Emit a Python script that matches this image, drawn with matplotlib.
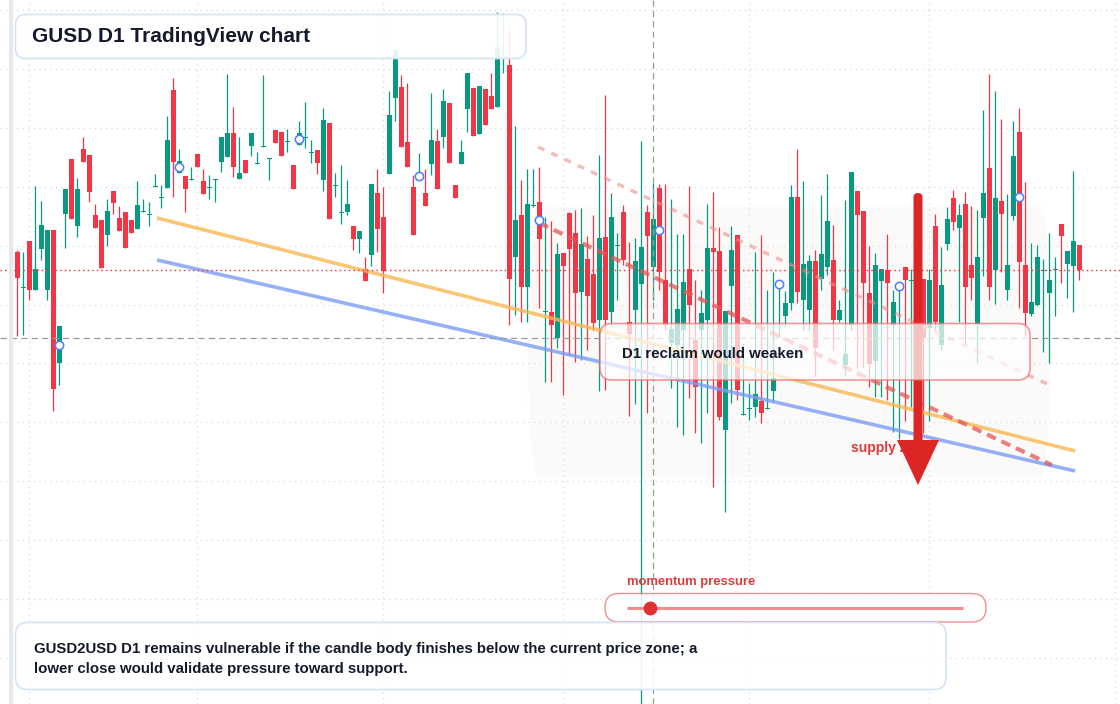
import matplotlib
matplotlib.use("Agg")
import matplotlib.pyplot as plt
import numpy as np
from matplotlib.patches import FancyBboxPatch, Rectangle, Polygon
from matplotlib.transforms import Affine2D

plt.rcParams['font.family'] = ['Liberation Sans', 'DejaVu Sans']
plt.rcParams['lines.scale_dashes'] = False

# ---------------- data (daily candles, arbitrary price units) ----------------
opens = [4.52, 4.16, 4.63, 4.14, 4.55, 4.14, 4.74, 3.41, 4.90, 5.45,
         4.78, 5.55, 5.49, 4.89, 4.84, 4.69, 5.13, 4.86, 4.92, 4.84,
         4.75, 4.92, 4.89, 5.17, 5.06, 5.16, 6.14, 5.31, 5.28, 5.24,
         5.50, 5.23, 5.16, 5.24, 5.42, 5.47, 5.71, 5.25, 5.44, 5.58,
         5.40, 5.57, 5.45, 5.74, 5.72, 5.62, 5.39, 5.59, 5.66, 5.51,
         5.54, 5.24, 5.81, 5.18, 4.91, 4.92, 4.78, 4.65, 4.35, 4.49,
         5.11, 4.87, 5.30, 6.06, 6.17, 5.62, 5.17, 5.27, 5.11, 5.40,
         5.63, 5.67, 6.01, 5.19, 5.40, 5.95, 6.16, 5.70, 6.15, 6.08,
         5.97, 6.54, 6.39, 4.47, 4.89, 4.17, 4.98, 5.02, 3.92, 3.92,
         3.66, 4.51, 4.91, 4.71, 4.12, 4.45, 4.30, 3.84, 4.67, 3.92,
         4.58, 4.92, 3.82, 3.94, 4.20, 4.92, 4.37, 5.16, 4.24, 3.61,
         3.59, 3.74, 4.35, 3.64, 3.74, 3.84, 4.56, 4.53, 2.74, 4.18,
         4.69, 2.89, 2.95, 2.97, 3.03, 2.95, 3.13, 4.18, 3.88, 4.01,
         5.07, 4.04, 3.94, 4.43, 4.25, 4.37, 4.44, 3.84, 3.39, 3.79,
         5.13, 4.93, 4.11, 3.43, 4.23, 4.34, 3.79, 4.16, 4.37, 4.23,
         4.32, 4.25, 3.76, 4.78, 3.59, 4.60, 5.06, 4.76, 5.00, 4.39,
         3.80, 4.86, 5.36, 4.34, 5.03, 4.14, 4.88, 5.72, 4.39, 3.90,
         3.99, 4.33, 4.11, 4.34, 4.80, 4.40, 4.38, 4.59]
highs = [4.54, 4.52, 4.63, 5.18, 5.03, 4.74, 4.74, 3.78, 5.15, 5.45,
         5.26, 5.67, 5.49, 5.00, 4.84, 5.05, 5.13, 4.98, 4.92, 4.84,
         5.23, 5.05, 5.02, 5.30, 5.19, 5.88, 6.26, 5.55, 5.28, 5.37,
         5.50, 5.35, 5.29, 5.25, 5.67, 6.30, 5.97, 5.67, 5.44, 5.71,
         5.52, 6.29, 5.46, 5.74, 5.72, 5.75, 5.39, 5.83, 6.02, 5.64,
         5.54, 5.96, 5.81, 5.31, 5.39, 5.24, 4.78, 4.73, 4.47, 5.20,
         5.35, 5.17, 6.13, 6.54, 6.29, 6.21, 5.29, 5.51, 5.35, 6.11,
         5.75, 6.15, 6.01, 5.19, 5.64, 6.31, 6.16, 6.18, 6.15, 6.31,
         6.92, 6.91, 6.74, 5.78, 5.24, 5.35, 5.35, 5.37, 4.87, 4.83,
         4.61, 4.51, 4.92, 4.94, 4.96, 4.68, 4.89, 5.49, 6.09, 5.11,
         4.71, 4.99, 4.62, 4.66, 5.63, 4.99, 5.21, 5.20, 5.20, 5.05,
         4.70, 4.70, 5.18, 4.24, 4.14, 5.00, 5.12, 4.77, 3.93, 4.78,
         4.69, 3.61, 3.21, 4.52, 4.69, 4.14, 4.32, 4.22, 4.13, 5.19,
         5.55, 5.23, 4.49, 4.54, 5.09, 5.30, 4.79, 4.04, 5.04, 5.32,
         5.13, 4.93, 4.58, 4.51, 4.35, 4.70, 4.14, 4.19, 4.37, 4.35,
         4.49, 4.25, 4.35, 4.90, 4.57, 4.97, 5.14, 5.00, 5.12, 4.98,
         4.94, 5.94, 6.30, 6.13, 5.85, 5.10, 5.83, 5.96, 5.22, 4.61,
         4.59, 4.45, 4.71, 4.47, 4.80, 4.53, 5.33, 4.59]
lows = [3.68, 3.69, 4.04, 4.14, 4.44, 4.04, 2.93, 3.19, 4.56, 4.85,
        4.67, 5.42, 5.02, 4.76, 4.36, 4.58, 4.90, 4.73, 4.56, 4.71,
        4.75, 4.92, 4.78, 5.17, 4.96, 5.16, 5.07, 5.31, 4.92, 5.24,
        5.37, 5.10, 5.05, 5.02, 5.32, 5.47, 5.27, 5.25, 5.31, 5.48,
        5.40, 5.57, 5.24, 5.61, 5.48, 5.52, 5.15, 5.59, 5.56, 5.41,
        5.30, 5.13, 4.85, 5.07, 4.80, 4.89, 4.54, 4.51, 4.23, 4.38,
        4.52, 4.11, 5.30, 5.83, 5.57, 5.37, 4.69, 5.27, 4.98, 5.29,
        5.15, 5.56, 5.41, 5.06, 5.40, 5.72, 5.68, 5.70, 5.79, 5.95,
        5.97, 6.31, 3.79, 3.89, 3.82, 3.82, 4.97, 3.96, 3.22, 3.22,
        3.56, 3.09, 3.49, 3.42, 3.44, 3.54, 3.74, 3.13, 3.14, 3.79,
        4.04, 4.39, 2.88, 3.00, -0.16, 2.91, 4.04, 4.14, 3.74, 3.16,
        2.77, 2.69, 3.06, 2.71, 2.61, 2.91, 2.17, 2.84, 1.92, 3.01,
        3.04, 2.89, 2.84, 2.87, 2.81, 2.95, 3.02, 3.67, 3.77, 3.94,
        4.01, 3.74, 3.74, 3.28, 4.14, 4.29, 3.54, 3.82, 3.28, 3.74,
        3.36, 3.37, 3.17, 3.07, 3.07, 3.04, 2.72, 2.65, 2.83, 2.97,
        3.04, 2.71, 2.83, 3.74, 3.54, 4.54, 4.74, 3.82, 3.59, 4.04,
        3.41, 4.28, 4.04, 4.00, 4.32, 4.04, 4.84, 3.96, 3.68, 3.88,
        3.98, 3.52, 3.41, 3.88, 4.21, 4.06, 3.92, 4.24]
closes = [4.26, 4.17, 4.14, 4.35, 4.79, 4.74, 3.15, 3.78, 5.15, 4.85,
          5.15, 5.42, 5.12, 4.76, 4.36, 4.93, 5.01, 4.73, 4.56, 4.71,
          4.99, 4.93, 4.90, 5.18, 5.07, 5.64, 5.42, 5.43, 5.15, 5.25,
          5.37, 5.10, 5.17, 5.25, 5.67, 5.71, 5.37, 5.31, 5.31, 5.71,
          5.41, 5.58, 5.46, 5.61, 5.48, 5.63, 5.15, 5.71, 5.67, 5.52,
          5.41, 5.84, 4.85, 5.19, 4.92, 5.00, 4.65, 4.73, 4.23, 5.20,
          4.75, 4.33, 5.89, 6.54, 5.57, 5.37, 4.69, 5.28, 4.98, 5.64,
          5.15, 6.03, 5.41, 5.06, 5.52, 6.31, 5.68, 6.18, 5.79, 5.95,
          6.57, 6.55, 4.25, 4.84, 4.17, 5.00, 4.99, 4.65, 3.93, 3.79,
          4.50, 4.38, 4.55, 4.11, 4.60, 4.08, 3.81, 4.66, 3.84, 4.87,
          4.59, 4.44, 3.70, 4.43, 4.57, 4.68, 4.85, 4.32, 3.79, 3.75,
          3.95, 4.22, 3.99, 3.17, 3.91, 4.56, 4.52, 2.87, 3.93, 4.54,
          3.14, 2.90, 2.96, 3.10, 2.91, 2.96, 3.26, 4.22, 4.01, 5.07,
          4.12, 4.40, 4.43, 3.56, 4.50, 4.83, 3.84, 3.94, 3.50, 5.32,
          4.89, 4.21, 3.40, 4.39, 4.35, 4.21, 4.02, 4.19, 4.24, 4.24,
          4.04, 3.66, 4.24, 3.82, 4.19, 4.85, 4.82, 4.89, 4.17, 4.26,
          4.47, 5.11, 4.17, 5.06, 4.90, 4.39, 5.48, 4.42, 3.91, 4.02,
          4.47, 4.34, 4.24, 4.35, 4.68, 4.53, 4.63, 4.34]

marker_days = [7, 27, 47, 67, 87, 107, 127, 147, 167]
month_starts = [2, 30, 61, 91, 122, 152, 183]
grid_prices = [6.94, 6.35, 5.76, 5.17, 4.58, 3.99, 3.41, 2.82, 2.23, 1.64, 1.05, 0.46]

orange_x, orange_y = [23.3, 176.3], [4.86, 2.53]
blue_x, blue_y = [23.3, 176.3], [4.44, 2.33]
dash_light_x, dash_light_y = [86.8, 172.4], [5.57, 3.18]
dash_dark_x, dash_dark_y = [87.0, 172.4], [4.81, 2.39]
zone_x, zone_y = [85.0, 172.4], [2.27, 4.97]
crosshair_day, crosshair_price = 106, 3.66

title = "GUSD D1 TradingView chart"
note = "D1 reclaim would weaken"
zone_label = "supply zone"
meter_label = "momentum pressure"
body_lines = ["GUSD2USD D1 remains vulnerable if the candle body finishes below the current price zone; a",
              "lower close would validate pressure toward support."]

# ---------------- figure ----------------
W, H = 1120, 704
fig = plt.figure(figsize=(W / 100, H / 100), dpi=100)
ax = fig.add_axes([0, 0, 1, 1])
ax.set_facecolor('white')
for s in ax.spines.values():
    s.set_visible(False)
ax.set_xticks([])
ax.set_yticks([])

# pixel transform (origin top-left)
pix = Affine2D().scale(1 / 100, -1 / 100).translate(0, H / 100) + fig.dpi_scale_trans

GREEN = '#089981'
RED = '#f23645'
o = np.array(opens); h = np.array(highs); l = np.array(lows); c = np.array(closes)
x = np.arange(len(o))

# grid
for gp in grid_prices:
    ax.axhline(gp, color='#d3d6dc', lw=0.9, dashes=(0.8, 3.2), zorder=0)
for m in month_starts:
    ax.axvline(m, color='#d3d6dc', lw=0.9, dashes=(0.8, 3.2), zorder=0)

# faint supply zone
ax.add_patch(FancyBboxPatch((zone_x[0], zone_y[0]), zone_x[1] - zone_x[0], zone_y[1] - zone_y[0],
                            boxstyle="round,pad=0,rounding_size=2", facecolor='#f4ece6',
                            edgecolor='none', alpha=0.22, zorder=0.5))

# candles
cols = np.where(c >= o, GREEN, RED)
ax.vlines(x, l, h, colors=cols, lw=0.9, zorder=2)
bot = np.minimum(o, c)
hgt = np.maximum(np.abs(c - o), 0.012)
ax.bar(x, hgt, bottom=bot, width=0.82, color=cols, linewidth=0, zorder=2.1)

# trend lines
ax.plot(orange_x, orange_y, color='#f8b853', lw=2.6, alpha=0.8, solid_capstyle='butt', zorder=3)
ax.plot(blue_x, blue_y, color='#7b9cf4', lw=2.6, alpha=0.8, solid_capstyle='butt', zorder=3)
ax.plot(dash_light_x, dash_light_y, color='#ef8c8c', lw=2.4, alpha=0.6, dashes=(5, 5.5), zorder=3)
ax.plot(dash_dark_x, dash_dark_y, color='#e45656', lw=3.0, alpha=0.75, dashes=(7, 4.5), zorder=3)

# markers
mk = np.array(marker_days)
ax.plot(mk, (o[mk] + c[mk]) / 2, 'o', ms=6, mfc='white', mec='#4d7ef7', mew=1.1, zorder=4)

# price line and crosshair
ax.axhline(c[-1], color=RED, lw=1.0, dashes=(1.1, 2.2), zorder=3.5)
ax.axhline(crosshair_price, color='#9b9b9b', lw=0.9, dashes=(4.5, 3), zorder=3.5)
ax.axvline(crosshair_day, color='#9b9b9b', lw=0.9, dashes=(4.5, 3), zorder=3.5)

ax.set_xlim(-17.3 / 6, (W - 17.3) / 6)
ax.set_ylim(0, 7.04)

# left edge band
ax.add_patch(Rectangle((9, 0), 4, H, transform=pix, facecolor='#e6e8ec', edgecolor='none', zorder=5))

# supply label (under arrow)
ax.text(851, 448, zone_label, transform=pix, fontsize=10, fontweight='bold', color='#e03a3a',
        va='center', ha='left', zorder=5)

# big arrow
ARROW = '#dc2626'
ax.add_patch(FancyBboxPatch((913.5, 193), 9, 252, transform=pix,
                            boxstyle="round,pad=0,rounding_size=4.5",
                            facecolor=ARROW, edgecolor='none', zorder=5.5))
ax.add_patch(Polygon([(897, 440), (939, 440), (918, 485)], closed=True, transform=pix,
                     facecolor=ARROW, edgecolor='none', zorder=5.5))


def box(x0, y0, x1, y1, r, ec, fa, z, lw=1.0):
    ax.add_patch(FancyBboxPatch((x0, y0), x1 - x0, y1 - y0, transform=pix,
                                boxstyle=f"round,pad=0,rounding_size={r}",
                                facecolor=(1, 1, 1, fa), edgecolor=ec, lw=lw, zorder=z))


# title box
box(15.5, 14.5, 526, 58.5, 10, '#d5e2f8', 0.9, 6, lw=1.2)
ax.text(32, 37, title, transform=pix, fontsize=15, fontweight='bold', color='#131a2b',
        va='center', ha='left', zorder=7)

# note box
box(600, 323.5, 1030, 380, 12, (0.93, 0.42, 0.42, 0.7), 0.72, 6, lw=1.2)
ax.text(622, 354, note, transform=pix, fontsize=10.8, fontweight='bold', color='#131a2b',
        va='center', ha='left', zorder=7)

# momentum meter
ax.text(627, 582.5, meter_label, transform=pix, fontsize=9.4, fontweight='bold', color='#e03a3a',
        va='center', ha='left', zorder=7)
box(605, 593.5, 986, 622, 14, (0.93, 0.42, 0.42, 0.75), 0.85, 6, lw=1.0)
ax.plot([627, 963], [607.7, 607.7], transform=pix, color='#ea7a7a', lw=2.2, alpha=0.85,
        solid_capstyle='butt', zorder=7)
ax.plot([650], [607.7], 'o', transform=pix, ms=10, color='#e03131', mec='none', zorder=7.5)

# bottom text box
box(15.5, 622.5, 946, 689.5, 12, '#d5e2f8', 0.9, 6, lw=1.2)
ax.text(34, 648.5, body_lines[0], transform=pix, fontsize=10.8, fontweight='bold', color='#131a2b',
        va='center', ha='left', zorder=7)
ax.text(34, 668.5, body_lines[1], transform=pix, fontsize=10.8, fontweight='bold', color='#131a2b',
        va='center', ha='left', zorder=7)

fig.savefig('out.png', dpi=100, facecolor='white')
